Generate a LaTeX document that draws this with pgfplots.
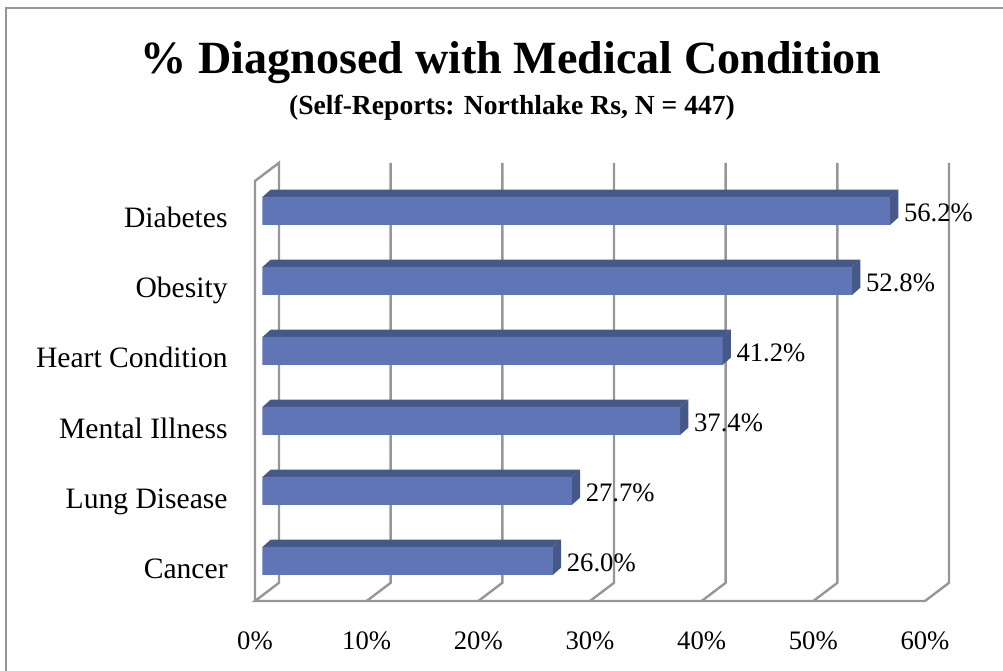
\documentclass[border=0pt]{standalone}
\usepackage{fontspec}
\setmainfont{Liberation Serif}
\usepackage{pgfplots}
\pgfplotsset{compat=1.18}
\definecolor{barfront}{RGB}{95,117,181}
\definecolor{bardark}{RGB}{70,88,136}
\definecolor{wall}{RGB}{150,150,150}
\newcommand{\lab}{\fontsize{20pt}{24pt}\selectfont}
\newcommand{\catlab}{\fontsize{22.2pt}{26pt}\selectfont}
\begin{document}
\begin{tikzpicture}
\path[use as bounding box] (0,0) rectangle (752.25pt,503.25pt);
\draw[wall,line width=1.8pt] (4.5pt,0pt) -- (4.5pt,497.25pt) -- (752.25pt,497.25pt);
\begin{axis}[
    at={(191.25pt,52.5pt)}, anchor=south west,
    scale only axis, width=502.5pt, height=315pt,
    xmin=0, xmax=60, ymin=-0.5, ymax=5.5,
    clip=false,
    axis line style={draw=none},
    major tick length=0pt,
    xtick={0,10,20,30,40,50,60},
    xticklabel={\pgfmathprintnumber{\tick}\%},
    ytick={0,1,2,3,4,5},
    yticklabels={Cancer,Lung Disease,Mental Illness,Heart Condition,Obesity,Diabetes},
    /pgf/number format/assume math mode=true,
    xticklabel style={font=\lab,yshift=-19.75pt},
    yticklabel style={font=\catlab,anchor=base east,xshift=-17pt,yshift=-9pt},
    title={\fontsize{34.6pt}{40pt}\selectfont\bfseries \% Diagnosed with Medical Condition},
    title style={at={(0.3825,1.262)},anchor=center},
]
% walls and floor
\addplot[wall,line width=1.8pt,sharp plot,forget plot] coordinates {(0,-0.5)(0,5.5)(2.15,5.76)(2.15,-0.24)(0,-0.5)(60,-0.5)(62.15,-0.24)(62.15,5.76)};
\addplot[wall,line width=1.8pt,sharp plot,forget plot] coordinates {(12.15,5.76)(12.15,-0.24)(10,-0.5)};
\addplot[wall,line width=1.8pt,sharp plot,forget plot] coordinates {(22.15,5.76)(22.15,-0.24)(20,-0.5)};
\addplot[wall,line width=1.8pt,sharp plot,forget plot] coordinates {(32.15,5.76)(32.15,-0.24)(30,-0.5)};
\addplot[wall,line width=1.8pt,sharp plot,forget plot] coordinates {(42.15,5.76)(42.15,-0.24)(40,-0.5)};
\addplot[wall,line width=1.8pt,sharp plot,forget plot] coordinates {(52.15,5.76)(52.15,-0.24)(50,-0.5)};
% bar depth: end faces
\addplot[fill=bardark,draw=none,xshift=5.6pt,yshift=3.75pt,forget plot] coordinates {(25.5,0.2)(26.0,0.2)(26.75,0.307)(26.75,-0.093)(26.0,-0.2)(25.5,-0.2)} -- cycle;
\addplot[fill=bardark,draw=none,xshift=5.6pt,yshift=3.75pt,forget plot] coordinates {(27.2,1.2)(27.7,1.2)(28.45,1.307)(28.45,0.907)(27.7,0.8)(27.2,0.8)} -- cycle;
\addplot[fill=bardark,draw=none,xshift=5.6pt,yshift=3.75pt,forget plot] coordinates {(36.9,2.2)(37.4,2.2)(38.15,2.307)(38.15,1.907)(37.4,1.8)(36.9,1.8)} -- cycle;
\addplot[fill=bardark,draw=none,xshift=5.6pt,yshift=3.75pt,forget plot] coordinates {(40.7,3.2)(41.2,3.2)(41.95,3.307)(41.95,2.907)(41.2,2.8)(40.7,2.8)} -- cycle;
\addplot[fill=bardark,draw=none,xshift=5.6pt,yshift=3.75pt,forget plot] coordinates {(52.3,4.2)(52.8,4.2)(53.55,4.307)(53.55,3.907)(52.8,3.8)(52.3,3.8)} -- cycle;
\addplot[fill=bardark,draw=none,xshift=5.6pt,yshift=3.75pt,forget plot] coordinates {(55.7,5.2)(56.2,5.2)(56.95,5.307)(56.95,4.907)(56.2,4.8)(55.7,4.8)} -- cycle;
% bar depth: top faces
\addplot[fill=bardark,draw=none,xshift=5.6pt,yshift=3.75pt,forget plot] coordinates {(0,0.2)(0.75,0.307)(26.75,0.307)(26.0,0.2)} -- cycle;
\addplot[fill=bardark,draw=none,xshift=5.6pt,yshift=3.75pt,forget plot] coordinates {(0,1.2)(0.75,1.307)(28.45,1.307)(27.7,1.2)} -- cycle;
\addplot[fill=bardark,draw=none,xshift=5.6pt,yshift=3.75pt,forget plot] coordinates {(0,2.2)(0.75,2.307)(38.15,2.307)(37.4,2.2)} -- cycle;
\addplot[fill=bardark,draw=none,xshift=5.6pt,yshift=3.75pt,forget plot] coordinates {(0,3.2)(0.75,3.307)(41.95,3.307)(41.2,3.2)} -- cycle;
\addplot[fill=bardark,draw=none,xshift=5.6pt,yshift=3.75pt,forget plot] coordinates {(0,4.2)(0.75,4.307)(53.55,4.307)(52.8,4.2)} -- cycle;
\addplot[fill=bardark,draw=none,xshift=5.6pt,yshift=3.75pt,forget plot] coordinates {(0,5.2)(0.75,5.307)(56.95,5.307)(56.2,5.2)} -- cycle;
% front faces
\addplot[xbar,bar width=21pt,bar shift=0pt,fill=barfront,draw=none,xshift=5.6pt,yshift=3.75pt,
    point meta=x,
    nodes near coords={\pgfmathprintnumber[fixed,fixed zerofill,precision=1,assume math mode=true]{\pgfplotspointmeta}\%},
    nodes near coords style={font=\lab,text=black,anchor=west,xshift=7pt,yshift=-1pt}]
  coordinates {(26.0,0)(27.7,1)(37.4,2)(41.2,3)(52.8,4)(56.2,5)};
\node[font=\fontsize{20.7pt}{24pt}\selectfont\bfseries] at (rel axis cs:0.3836,1.174) {(Self-Reports: Northlake Rs, N = 447)};
\end{axis}
\end{tikzpicture}
\end{document}
